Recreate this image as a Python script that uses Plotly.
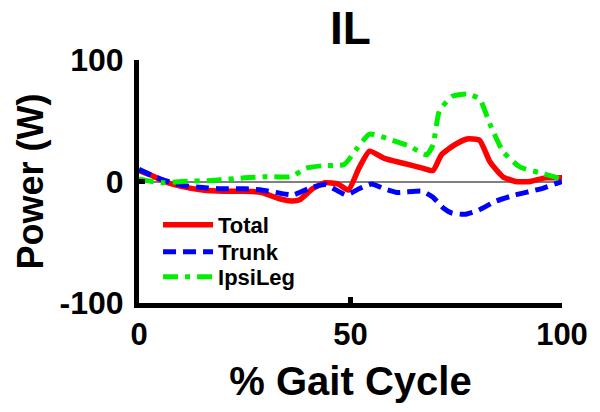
import plotly.graph_objects as go

# Data
total_x = [0, 3, 6, 10, 15, 20, 25, 29, 33, 36, 38, 41, 44, 47, 49.5, 52, 54.5, 58, 62.5, 67, 69.5, 71.5, 74.5, 77.5, 80.5, 83, 86, 89, 92.5, 96, 100]
total_y = [9, 5, 0, -4, -7, -8, -8, -9, -14, -16, -15, -6, -1, -2, -7, 11, 25, 19, 15, 11, 9, 22, 30, 35, 34, 16, 4, 0, 0, 3, 3]

trunk_x = [0, 3, 6, 10, 15, 20, 25, 29, 33, 36.5, 40, 44, 49, 52, 55, 58, 61, 67, 69.5, 72, 74, 77, 80, 84.5, 89, 95, 100]
trunk_y = [10, 5, 1, -3, -5, -6, -6, -7, -9.5, -11, -6, -2.5, -11, -6, -2, -6, -9, -8, -13, -22, -26, -27, -24, -16, -11, -6, 0]

ipsi_x = [0, 3, 6, 10, 18, 25, 30, 36, 39.5, 43.5, 48.5, 51.5, 54.5, 59, 64, 68, 69.5, 71, 74, 77.5, 80.5, 83, 86, 90, 95, 100]
ipsi_y = [2, 0, -1, 0, 1, 3, 4, 4, 11, 13, 14, 27, 39, 35, 29, 22, 30, 58, 70, 72, 68, 47, 25, 12, 7, 2]

x_ticks = [0, 50, 100]
y_ticks = [-100, 0, 100]

FONT = "Liberation Sans, Arial, sans-serif"

fig = go.Figure()
fig.add_trace(go.Scatter(x=total_x, y=total_y, name="Total", mode="lines", legend="legend",
                         line=dict(color="#ff0000", width=5.5, shape="spline", smoothing=0.5)))
fig.add_trace(go.Scatter(x=trunk_x, y=trunk_y, name="Trunk", mode="lines", legend="legend2",
                         line=dict(color="#0000ff", width=5, dash="13px,7px", shape="spline", smoothing=0.5)))
fig.add_trace(go.Scatter(x=ipsi_x, y=ipsi_y, name="IpsiLeg", mode="lines", legend="legend3",
                         line=dict(color="#00ee00", width=5, dash="15px,7px,5px,7px", shape="spline", smoothing=0.5)))

leg_common = dict(x=0.045, xanchor="left", yanchor="middle",
                  bgcolor="rgba(0,0,0,0)", borderwidth=0, itemwidth=50,
                  font=dict(size=22, family=FONT, weight="bold", color="black"))

fig.update_layout(
    width=600, height=412,
    margin=dict(l=139, r=38, t=60, b=109, autoexpand=False),
    paper_bgcolor="white", plot_bgcolor="white",
    font=dict(family=FONT, color="black", weight="bold"),
    title=dict(text="IL", x=0.5, xref="paper", xanchor="center",
               y=1 - 28 / 412, yref="container", yanchor="middle",
               font=dict(size=46, family=FONT, weight="bold", color="black")),
    showlegend=True,
    legend=dict(y=0.321, **leg_common),
    legend2=dict(y=0.210, **leg_common),
    legend3=dict(y=0.107, **leg_common),
    xaxis=dict(range=[0, 100], tickvals=x_ticks, ticktext=[str(v) for v in x_ticks],
               automargin=False,
               showgrid=False, zeroline=False, showline=True, linecolor="black", linewidth=5,
               ticks="inside", ticklen=6, tickwidth=5, tickcolor="black",
               tickfont=dict(size=31, family=FONT, weight="bold"),
               title=dict(text="% Gait Cycle", standoff=17,
                          font=dict(size=40, family=FONT, weight="bold"))),
    yaxis=dict(range=[-100, 100], tickvals=y_ticks, ticktext=[str(v) for v in y_ticks],
               automargin=False, ticklabelstandoff=4,
               showgrid=False, zeroline=True, zerolinecolor="#808080", zerolinewidth=1.5,
               showline=True, linecolor="black", linewidth=5,
               ticks="inside", ticklen=6, tickwidth=5, tickcolor="black",
               tickfont=dict(size=32, family=FONT, weight="bold"),
               title=dict(text="Power (W)", standoff=6,
                          font=dict(size=36, family=FONT, weight="bold"))),
)

fig.write_html("out.html", config={"displayModeBar": False},
               post_script="document.body.style.margin='0';")
